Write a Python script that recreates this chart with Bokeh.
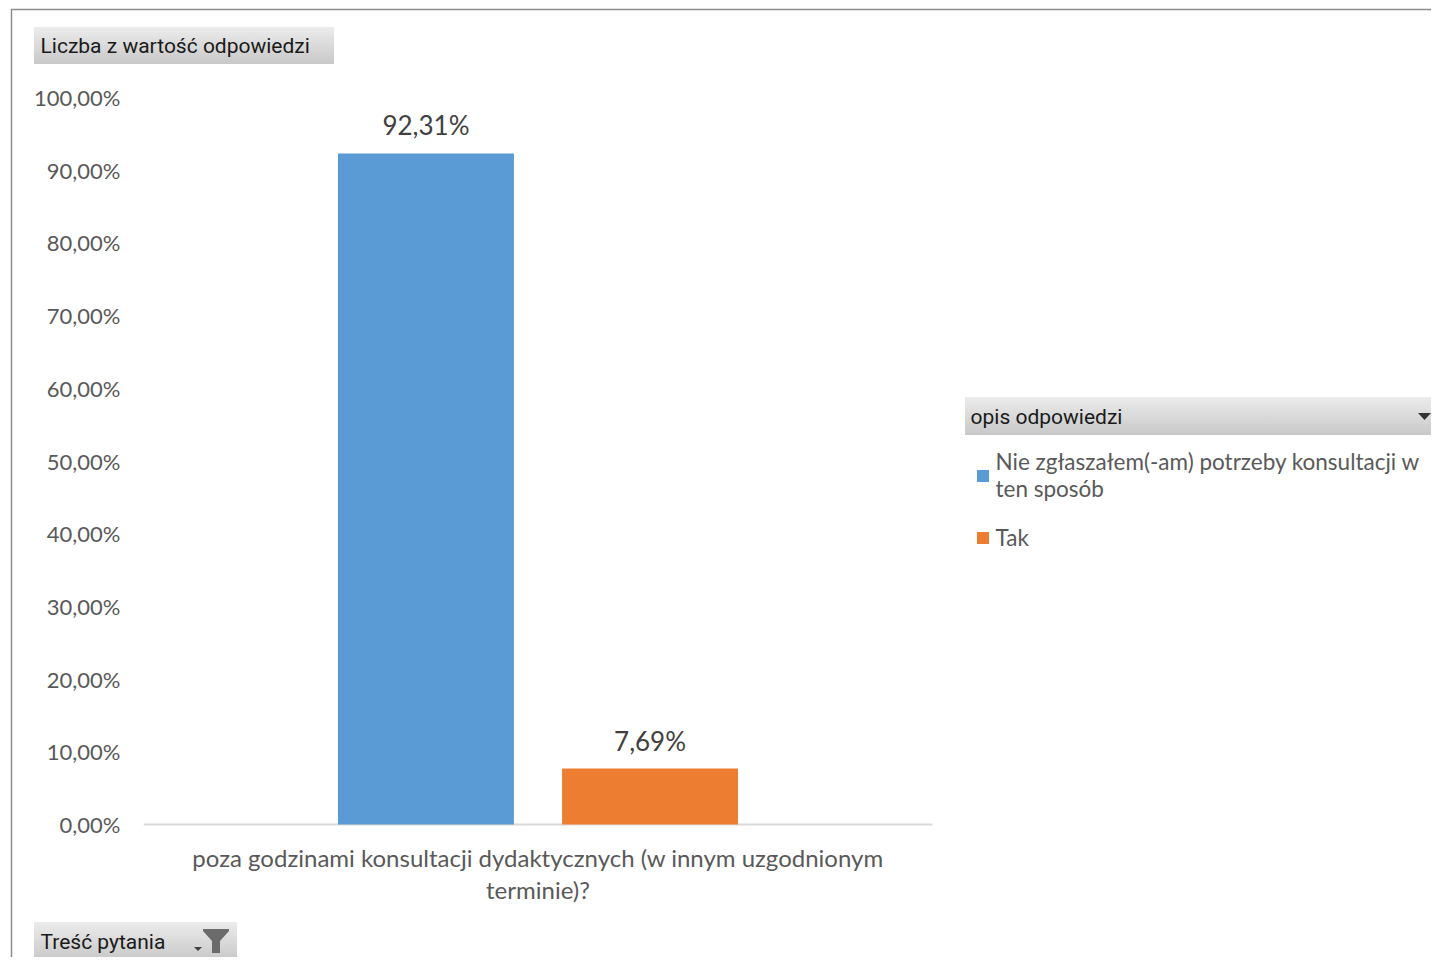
from urllib.parse import quote
from bokeh.plotting import figure
from bokeh.models import (Range1d, FixedTicker, Label, Legend, LegendItem, ColumnDataSource)
from bokeh.transform import dodge
from bokeh.embed import file_html
from bokeh.resources import INLINE
from bokeh.core.properties import value

# ---------------- data ----------------
categories = ["poza godzinami konsultacji dydaktycznych (w innym uzgodnionym\nterminie)?"]
series_names = ["Nie zgłaszałem(-am) potrzeby konsultacji w\nten sposób", "Tak"]
series_values = [92.31, 7.69]
series_labels = ["92,31%", "7,69%"]
series_colors = ["#5b9bd5", "#ed7d31"]
y_ticks = [0, 10, 20, 30, 40, 50, 60, 70, 80, 90, 100]
y_tick_labels = ["0,00%", "10,00%", "20,00%", "30,00%", "40,00%", "50,00%",
                 "60,00%", "70,00%", "80,00%", "90,00%", "100,00%"]
value_field_title = "Liczba z wartość odpowiedzi"
legend_field_title = "opis odpowiedzi"
axis_field_title = "Treść pytania"

# ---------------- layout ----------------
W, H = 1431, 957
FL, FT = 143, 97            # frame left / top (px)
BAND_R = 932                # right end of the category band (px)
Y0, Y100 = 824, 97          # pixel rows of 0 % and 100 %
FB = 826                    # frame bottom (2px below zero so the baseline is not clipped)

px_per_unit = (Y0 - Y100) / 100.0
y_start = -(FB - Y0) / px_per_unit
cat_pos = list(range(len(categories)))
x_end = -0.5 + (W - FL) / (BAND_R - FL)

p = figure(width=W, height=H, x_range=Range1d(-0.5, x_end), y_range=Range1d(y_start, 100),
           output_backend="svg", toolbar_location=None,
           min_border_left=FL, min_border_right=0,
           min_border_top=FT, min_border_bottom=H - FB)
p.outline_line_color = None
p.xgrid.visible = False
p.ygrid.visible = False
p.background_fill_color = None
p.border_fill_color = None

# y axis
p.yaxis.ticker = FixedTicker(ticks=y_ticks)
p.yaxis.major_label_overrides = {t: l for t, l in zip(y_ticks, y_tick_labels)}
p.yaxis.axis_line_color = None
p.yaxis.major_tick_line_color = None
p.yaxis.minor_tick_line_color = None
p.yaxis.major_tick_out = 0
p.yaxis.major_tick_in = 0
p.yaxis.major_label_standoff = 23
p.yaxis.major_label_text_font = "Lato"
p.yaxis.major_label_text_font_size = "22px"
p.yaxis.major_label_text_color = "#595959"

# x axis (one category, label centred under the band)
p.xaxis.ticker = FixedTicker(ticks=cat_pos)
p.xaxis.major_label_overrides = {i: c for i, c in zip(cat_pos, categories)}
p.xaxis.axis_line_color = None
p.xaxis.major_tick_line_color = None
p.xaxis.minor_tick_line_color = None
p.xaxis.major_tick_out = 0
p.xaxis.major_tick_in = 0
p.xaxis.major_label_standoff = 16
p.xaxis.major_label_text_font = "Lato"
p.xaxis.major_label_text_font_size = "24px"
p.xaxis.major_label_text_color = "#595959"
p.xaxis.major_label_text_line_height = 1.12

# category baseline across the band
p.segment(x0=[c - 0.5 for c in cat_pos], x1=[c + 0.5 for c in cat_pos], y0=[0] * len(cat_pos),
          y1=[0] * len(cat_pos), line_color="#d9d9d9", line_width=2)

# bars + data labels
offsets = [-0.142, 0.142]
items = []
for name, val, lab, col, off in zip(series_names, series_values, series_labels, series_colors, offsets):
    src = ColumnDataSource(dict(cat=[cat_pos[0]], val=[val], lab=[lab]))
    r = p.vbar(x=dodge("cat", off), top="val", width=0.223, source=src,
               fill_color=col, line_color=None)
    p.text(x=dodge("cat", off), y="val", text="lab", source=src,
           text_align="center", text_baseline="bottom", y_offset=-12,
           text_font=value("Lato"), text_font_size="26px", text_color="#404040")
    items.append(LegendItem(label=name, renderers=[r]))

legend = Legend(items=items, location=(974.5 - FL, FB - 551),
                glyph_width=15, glyph_height=15, label_standoff=6, spacing=22,
                padding=6, margin=0, background_fill_alpha=0, border_line_color=None,
                label_text_font="Lato", label_text_font_size="22.5px",
                label_text_color="#595959", label_text_line_height=1.24)
p.add_layout(legend, "center")

# ---------------- pivot-field buttons: texts ----------------
for txt, X, Y in [(value_field_title, 40, 45.5), (axis_field_title, 40, 941), (legend_field_title, 970, 416)]:
    p.add_layout(Label(x=X, y=Y, x_units="canvas", y_units="canvas", text=txt,
                       text_font="Roboto", text_font_size="21px", text_color="#1a1a1a",
                       text_baseline="middle", text_align="left"), "above")

# ---------------- frame border, button faces and icons (background picture) ----------------
svg = (
    "<svg xmlns='http://www.w3.org/2000/svg' width='%d' height='%d'>" % (W, H)
    + "<defs><linearGradient id='g' x1='0' y1='0' x2='0' y2='1'>"
    + "<stop offset='0' stop-color='#ececec'/><stop offset='1' stop-color='#c8c8c8'/>"
    + "</linearGradient></defs>"
    + "<path d='M11.5 %d V9.5 H%d' fill='none' stroke='#8c8c8c' stroke-width='1.5'/>" % (H, W)
    + "<rect x='34' y='27' width='300' height='37' fill='url(#g)'/>"
    + "<rect x='34' y='922' width='203' height='38' fill='url(#g)'/>"
    + "<rect x='965' y='397' width='478' height='38' fill='url(#g)'/>"
    + "<polygon points='203,929 229,929 229,931 220,941 220,953 212,953 212,941 203,931' fill='#6b6b6b'/>"
    + "<polygon points='194,947 202,947 198,951' fill='#404040'/>"
    + "<polygon points='1418,413 1431,413 1424.5,420' fill='#333333'/>"
    + "</svg>"
)
p.styles = {"background-image": 'url("data:image/svg+xml,%s")' % quote(svg),
            "background-repeat": "no-repeat",
            "background-position": "0 0"}

open("out.html", "w").write(file_html(p, INLINE))
